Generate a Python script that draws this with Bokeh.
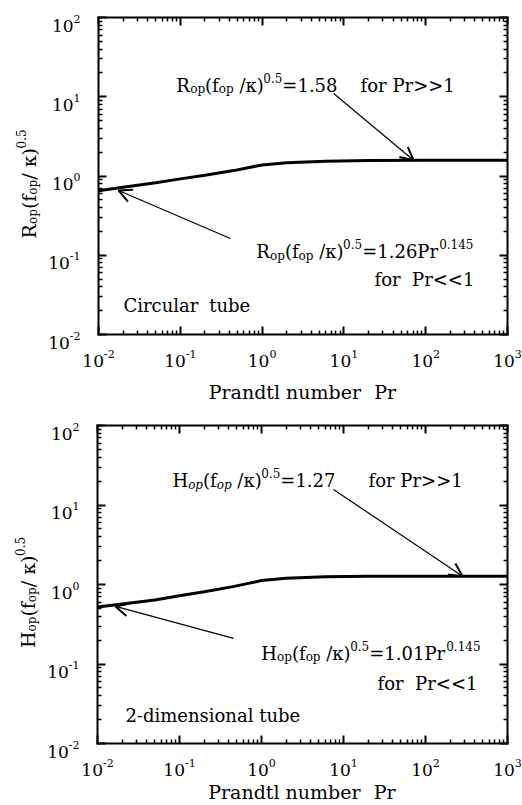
import re
from bokeh.plotting import figure
from bokeh.models import Label, Arrow, OpenHead, FixedTicker, LogAxis, Range1d
from bokeh.layouts import column
from bokeh.embed import file_html
from bokeh.resources import INLINE

# ---------------- data ----------------
pr = [0.01, 0.02, 0.05, 0.1, 0.2, 0.45, 1, 2, 6, 20, 100, 1000]
r_circular = [0.65, 0.72, 0.82, 0.92, 1.02, 1.17, 1.38, 1.47, 1.54, 1.57, 1.58, 1.58]
h_2d = [0.52, 0.57, 0.64, 0.72, 0.81, 0.94, 1.12, 1.20, 1.25, 1.27, 1.27, 1.27]

x_major = [1e-2, 1e-1, 1e0, 1e1, 1e2, 1e3]
x_exp = ["-2", "-1", "0", "1", "2", "3"]
y_major = [1e-2, 1e-1, 1e0, 1e1, 1e2]
y_exp = ["-2", "-1", "0", "1", "2"]

FONT = "DejaVu Serif"
CANVAS_W = 522

# approximate advance widths (em) for DejaVu Serif
W = {' ': .318, '(': .390, ')': .390, '-': .338, '.': .318, '/': .337, '=': .838,
     '<': .838, '>': .838, 'C': .734, 'H': .872, 'P': .733, 'R': .770,
     'a': .596, 'b': .640, 'c': .560, 'd': .640, 'e': .592, 'f': .370, 'i': .320,
     'l': .320, 'm': .948, 'n': .644, 'o': .602, 'p': .640, 'r': .478, 's': .513,
     't': .402, 'u': .644, 'κ': .600}
for d in "0123456789":
    W[d] = .636


def tw(s, size):
    return sum(W.get(c, .6) for c in s) * size


def rich(p, x, y, segs, size, align="left", dx=0.0, dy=0.0, angle=0.0, small=None):
    small = small or round(size * 0.64)
    pieces, total = [], 0.0
    for seg in segs:
        t, k = seg[0], seg[1]
        style = seg[2] if len(seg) > 2 else "normal"
        sz = size if k == "n" else small
        pieces.append((t, k, sz, total, style))
        total += tw(t, sz)
    start = {"left": 0.0, "center": -total / 2, "right": -total}[align]
    for t, k, sz, off, style in pieces:
        shift = {"n": 0.0, "sub": -0.22 * size, "sup": 0.40 * size}[k]
        cur = start + off
        for tok in re.split(r"( {2,})", t):
            if tok.strip() == "":
                cur += tw(tok, sz)
                continue
            lead = len(tok) - len(tok.lstrip(" "))
            cur += tw(" " * lead, sz)
            body = tok.strip(" ")
            if angle == 0:
                xo, yo = dx + cur, dy + shift
            else:
                xo, yo = dx - shift, dy + cur
            p.add_layout(Label(x=x, y=y, x_offset=xo, y_offset=yo, text=body, angle=angle,
                               text_font=FONT, text_font_size=f"{sz}px",
                               text_font_style=style, text_baseline="alphabetic",
                               text_align="left", text_color="black"))
            cur += tw(tok[lead:], sz)


def minors(lo, hi):
    out = []
    for e in range(lo, hi):
        for k in range(2, 10):
            out.append(k * 10.0 ** e)
    return out


def make_fig(height, box, yvals, letter, sub_style, hi_val, lo_coef, tube, pos, xlab_dy):
    left, right, top, bottom = box
    dec_x = (right - left) / 5.0
    dec_y = (bottom - top) / 4.0
    x0 = -2 - left / dec_x
    x1 = 3 + (CANVAS_W - right) / dec_x
    y1 = 2 + top / dec_y
    y0 = -2 - (height - bottom) / dec_y
    p = figure(width=CANVAS_W, height=height, x_axis_type="log", y_axis_type="log",
               x_range=Range1d(10 ** x0, 10 ** x1), y_range=Range1d(10 ** y0, 10 ** y1),
               output_backend="svg", toolbar_location=None, min_border=0,
               background_fill_color="white", border_fill_color="white")
    p.outline_line_color = None
    p.xgrid.visible = False
    p.ygrid.visible = False
    p.add_layout(LogAxis(), "above")
    p.add_layout(LogAxis(), "right")
    p.below[0].fixed_location = 1e-2
    p.above[0].fixed_location = 1e2
    p.left[0].fixed_location = 1e-2
    p.right[0].fixed_location = 1e3
    for ax in p.xaxis:
        ax.ticker = FixedTicker(ticks=x_major, minor_ticks=minors(-2, 3))
        ax.bounds = (1e-2, 1e3)
    for ax in p.yaxis:
        ax.ticker = FixedTicker(ticks=y_major, minor_ticks=minors(-2, 2))
        ax.bounds = (1e-2, 1e2)
    for ax in p.xaxis + p.yaxis:
        ax.axis_line_width = 2
        ax.axis_line_color = "black"
        ax.axis_line_cap = "square"
        ax.major_tick_in = 8
        ax.major_tick_out = 0
        ax.minor_tick_in = 4
        ax.minor_tick_out = 0
        ax.major_tick_line_width = 2
        ax.minor_tick_line_width = 1.5
        ax.major_label_text_font_size = "1px"
        ax.major_label_text_alpha = 0
        ax.major_label_standoff = 0

    p.line(pr, yvals, line_width=3, line_color="black")

    # tick labels
    for v, e in zip(x_major, x_exp):
        rich(p, v, 1e-2, [("10", "n"), (e, "sup")], 17, align="center", dy=-26, small=11)
    for v, e in zip(y_major, y_exp):
        rich(p, 1e-2, v, [("10", "n"), (e, "sup")], 17, align="right", dx=-18, dy=-8, small=11)

    # axis labels
    rich(p, 10 ** 0.5, 1e-2, [("Prandtl number  Pr", "n")], 19, align="center", dy=xlab_dy)
    rich(p, 1e-2, 1.0, [(letter, "n"), ("op", "sub"), ("(f", "n"), ("op", "sub"),
                        ("/ κ)", "n"), ("0.5", "sup")], 19, align="center",
         dx=-70, dy=-8, angle=1.5707963)

    # equations
    rich(p, pos["hi"][0], pos["hi"][1],
         [(letter, "n"), ("op", "sub", sub_style), ("(f", "n"), ("op", "sub", sub_style),
          (" /κ)", "n"), ("0.5", "sup"), ("=" + hi_val, "n")], 18, align="right")
    rich(p, pos["hi_for"][0], pos["hi_for"][1], [("for Pr>>1", "n")], 18, align="left")
    rich(p, pos["lo"][0], pos["lo"][1],
         [(letter, "n"), ("op", "sub"), ("(f", "n"), ("op", "sub"),
          (" /κ)", "n"), ("0.5", "sup"), ("=" + lo_coef + "Pr", "n"), ("0.145", "sup")],
         18, align="right")
    rich(p, pos["lo_for"][0], pos["lo_for"][1], [("for  Pr<<1", "n")], 18, align="right")
    rich(p, pos["tube"][0], pos["tube"][1], [(tube, "n")], 18, align="left")

    for a in (pos["arrow_hi"], pos["arrow_lo"]):
        p.add_layout(Arrow(end=OpenHead(size=13, line_width=2, line_color="black"),
                           x_start=a[0], y_start=a[1], x_end=a[2], y_end=a[3],
                           line_width=1.2, line_color="black"))
    return p


pos_top = {
    "hi": (8.35, 13.9), "hi_for": (16.0, 13.9),
    "lo": (384, 0.111), "lo_for": (406, 0.0494),
    "tube": (0.0202, 0.0232),
    "arrow_hi": (7.5, 11.0, 71, 1.58),
    "arrow_lo": (0.41, 0.163, 0.0176, 0.656),
}
pos_bot = {
    "hi": (7.98, 20.3), "hi_for": (20.2, 20.3),
    "lo": (469, 0.1355), "lo_for": (443, 0.0569),
    "tube": (0.0219, 0.0225),
    "arrow_hi": (7.55, 15.7, 283, 1.27),
    "arrow_lo": (0.456, 0.21, 0.0166, 0.53),
}

p1 = make_fig(408, (98, 507, 17, 334), r_circular, "R", "normal", "1.58", "1.26",
              "Circular  tube", pos_top, -57)
p2 = make_fig(395, (97, 507, 17, 335), h_2d, "H", "italic", "1.27", "1.01",
              "2-dimensional tube", pos_bot, -48)

layout = column(p1, p2, spacing=0)
open("out.html", "w").write(file_html(layout, INLINE))
